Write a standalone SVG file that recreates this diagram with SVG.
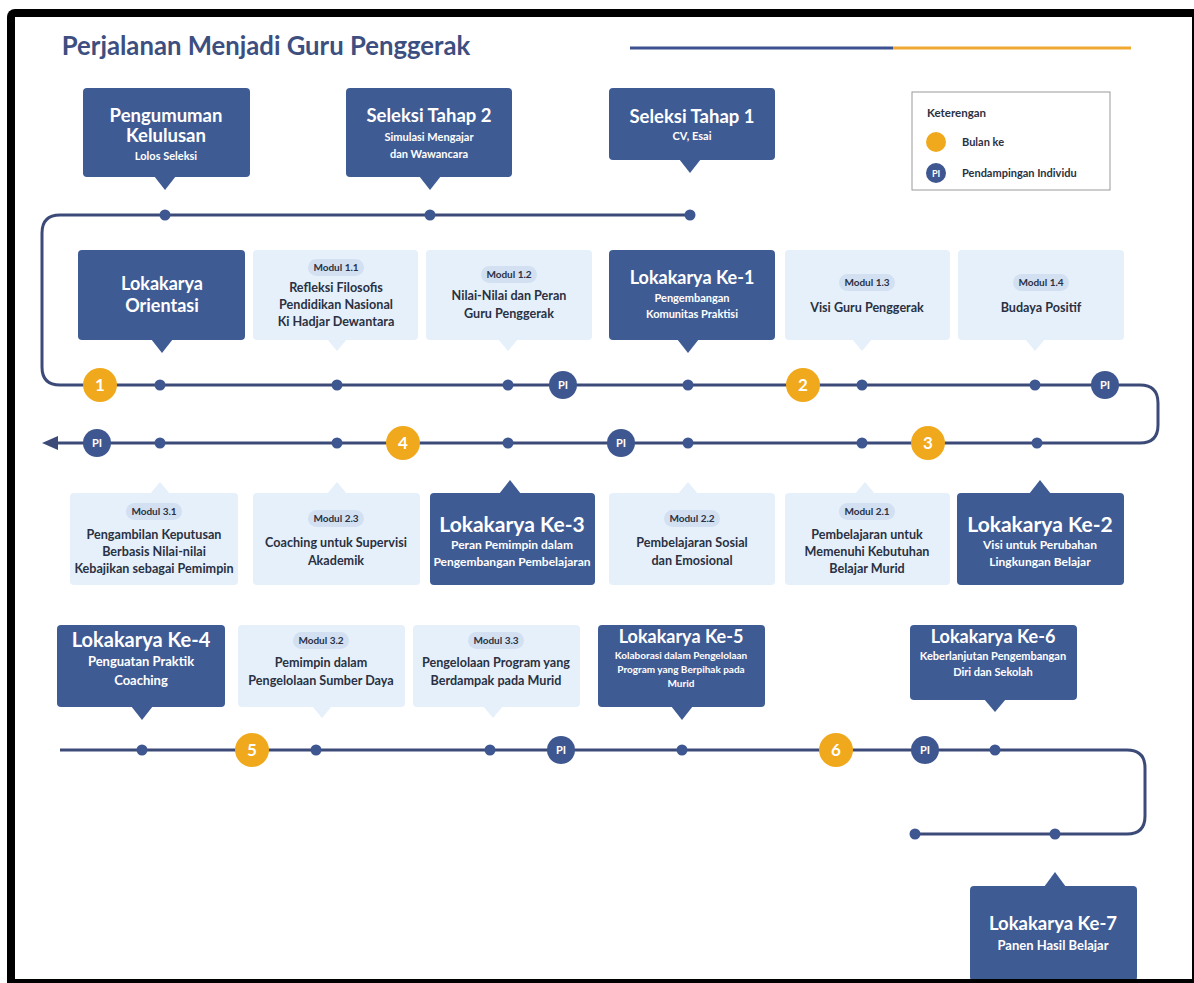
<svg xmlns="http://www.w3.org/2000/svg" width="1194" height="983" viewBox="0 0 1194 983">
<style>
text{font-family:Lato,"Open Sans","Liberation Sans",sans-serif;font-weight:bold;text-anchor:middle}
.dk{fill:#3f5b94}
.lt{fill:#e5f0fb}
.pill{fill:#d2e0f2}
.wt{fill:#fff;font-size:18px}
.wb{fill:#fff;font-size:21px}
.ws{fill:#fff;font-size:11px}
.wm{fill:#fff;font-size:13px}
.dt{fill:#2a3142;font-size:12.6px}
.pt{fill:#2a3142;font-size:10px}
.ln{fill:none;stroke:#3c4a78;stroke-width:3}
.dot{fill:#3f5790}
.or{fill:#f0a91d}
.on{fill:#fff;font-size:17px}
.pi{fill:#3f5790}
.pn{fill:#fff;font-size:11px}
</style>
<rect x="0" y="0" width="1194" height="983" fill="#fff"/>
<rect x="7" y="9" width="1195" height="985" rx="8" fill="#000"/>
<rect x="15" y="17" width="1177" height="962" fill="#fff"/>

<g id="title">
<text x="266" y="55" style="font-size:25.7px;fill:#3d4f80">Perjalanan Menjadi Guru Penggerak</text>
<line x1="630" y1="48" x2="893" y2="48" stroke="#3d5090" stroke-width="3"/>
<line x1="893" y1="48" x2="1131" y2="48" stroke="#f0a830" stroke-width="3"/>
</g>

<g id="legend">
<rect x="912" y="92" width="198" height="98" fill="#fff" stroke="#9a9a9a" stroke-width="1"/>
<text x="927" y="117" style="font-size:11.5px;fill:#2a3142;text-anchor:start">Keterengan</text>
<circle cx="936" cy="142" r="10" class="or"/>
<text x="962" y="146" style="font-size:11px;fill:#2a3142;text-anchor:start">Bulan ke</text>
<circle cx="936" cy="173" r="10" class="pi"/>
<text x="936" y="177" style="font-size:9px;fill:#fff">PI</text>
<text x="962" y="177" style="font-size:11px;fill:#2a3142;text-anchor:start">Pendampingan Individu</text>
</g>

<g id="connectors">
<path class="ln" d="M690 215 H60 Q42 215 42 233 V367 Q42 385 60 385 H1140 Q1158 385 1158 403 V425 Q1158 443 1140 443 H55"/>
<polygon points="42,443 58,436 58,450" fill="#3c4a78"/>
<path class="ln" d="M60 750 H1127 Q1145 750 1145 768 V816 Q1145 834 1127 834 H915"/>
</g>

<g id="markers">
<circle cx="165" cy="215" r="5.5" class="dot"/>
<circle cx="430" cy="215" r="5.5" class="dot"/>
<circle cx="690" cy="215" r="5.5" class="dot"/>

<circle cx="100" cy="385" r="17" class="or"/><text x="100" y="391" class="on">1</text>
<circle cx="160" cy="385" r="5.5" class="dot"/>
<circle cx="337" cy="385" r="5.5" class="dot"/>
<circle cx="508" cy="385" r="5.5" class="dot"/>
<circle cx="563" cy="385" r="14" class="pi"/><text x="563" y="389" class="pn">PI</text>
<circle cx="688" cy="385" r="5.5" class="dot"/>
<circle cx="803" cy="385" r="17" class="or"/><text x="803" y="391" class="on">2</text>
<circle cx="862" cy="385" r="5.5" class="dot"/>
<circle cx="1035" cy="385" r="5.5" class="dot"/>
<circle cx="1105" cy="385" r="14" class="pi"/><text x="1105" y="389" class="pn">PI</text>

<circle cx="928" cy="443" r="17" class="or"/><text x="928" y="449" class="on">3</text>
<circle cx="1037" cy="443" r="5.5" class="dot"/>
<circle cx="862" cy="443" r="5.5" class="dot"/>
<circle cx="688" cy="443" r="5.5" class="dot"/>
<circle cx="621" cy="443" r="14" class="pi"/><text x="621" y="447" class="pn">PI</text>
<circle cx="508" cy="443" r="5.5" class="dot"/>
<circle cx="403" cy="443" r="17" class="or"/><text x="403" y="449" class="on">4</text>
<circle cx="337" cy="443" r="5.5" class="dot"/>
<circle cx="160" cy="443" r="5.5" class="dot"/>
<circle cx="97" cy="443" r="14" class="pi"/><text x="97" y="447" class="pn">PI</text>

<circle cx="142" cy="750" r="5.5" class="dot"/>
<circle cx="252" cy="750" r="17" class="or"/><text x="252" y="756" class="on">5</text>
<circle cx="316" cy="750" r="5.5" class="dot"/>
<circle cx="490" cy="750" r="5.5" class="dot"/>
<circle cx="561" cy="750" r="14" class="pi"/><text x="561" y="754" class="pn">PI</text>
<circle cx="682" cy="750" r="5.5" class="dot"/>
<circle cx="836" cy="750" r="17" class="or"/><text x="836" y="756" class="on">6</text>
<circle cx="925" cy="750" r="14" class="pi"/><text x="925" y="754" class="pn">PI</text>
<circle cx="995" cy="750" r="5.5" class="dot"/>

<circle cx="915" cy="834" r="5.5" class="dot"/>
<circle cx="1055" cy="834" r="5.5" class="dot"/>
</g>

<g id="pengumuman">
<rect x="83" y="88" width="167" height="89" rx="4" class="dk"/>
<polygon points="154,176 176,176 165,190" class="dk"/>
<text x="166" y="122" class="wt" style="font-size:18.5px">Pengumuman</text>
<text x="166" y="142" class="wt" style="font-size:18.5px">Kelulusan</text>
<text x="166" y="160" class="ws">Lolos Seleksi</text>
</g>
<g id="seleksi2">
<rect x="346" y="88" width="166" height="89" rx="4" class="dk"/>
<polygon points="419,176 441,176 430,190" class="dk"/>
<text x="429" y="122" class="wt" style="font-size:18.5px">Seleksi Tahap 2</text>
<text x="429" y="141" class="ws">Simulasi Mengajar</text>
<text x="429" y="158" class="ws">dan Wawancara</text>
</g>
<g id="seleksi1">
<rect x="609" y="88" width="166" height="72" rx="4" class="dk"/>
<polygon points="679,159 701,159 690,173" class="dk"/>
<text x="692" y="123" class="wt" style="font-size:18.5px">Seleksi Tahap 1</text>
<text x="692" y="140" class="ws">CV, Esai</text>
</g>

<g id="orientasi">
<rect x="78" y="250" width="167" height="90" rx="4" class="dk"/>
<polygon points="151,339 173,339 162,353" class="dk"/>
<text x="162" y="290" class="wt">Lokakarya</text>
<text x="162" y="312" class="wt">Orientasi</text>
</g>
<g id="modul11">
<rect x="253" y="250" width="165" height="90" rx="4" class="lt"/>
<polygon points="327,339 347,339 337,351" class="lt"/>
<rect x="308" y="259" width="56" height="17" rx="8.5" class="pill"/>
<text x="336" y="271" class="pt">Modul 1.1</text>
<text x="336" y="292" class="dt">Refleksi Filosofis</text>
<text x="336" y="309" class="dt">Pendidikan Nasional</text>
<text x="336" y="326" class="dt">Ki Hadjar Dewantara</text>
</g>
<g id="modul12">
<rect x="426" y="250" width="166" height="90" rx="4" class="lt"/>
<polygon points="498,339 518,339 508,351" class="lt"/>
<rect x="481" y="266" width="56" height="17" rx="8.5" class="pill"/>
<text x="509" y="278" class="pt">Modul 1.2</text>
<text x="509" y="300" class="dt">Nilai-Nilai dan Peran</text>
<text x="509" y="318" class="dt">Guru Penggerak</text>
</g>
<g id="lk1">
<rect x="609" y="250" width="166" height="90" rx="4" class="dk"/>
<polygon points="677,339 699,339 688,353" class="dk"/>
<text x="692" y="284" class="wt">Lokakarya Ke-1</text>
<text x="692" y="302" class="ws">Pengembangan</text>
<text x="692" y="318" class="ws">Komunitas Praktisi</text>
</g>
<g id="modul13">
<rect x="785" y="250" width="165" height="90" rx="4" class="lt"/>
<polygon points="852,339 872,339 862,351" class="lt"/>
<rect x="839" y="274" width="56" height="17" rx="8.5" class="pill"/>
<text x="867" y="286" class="pt">Modul 1.3</text>
<text x="867" y="312" class="dt">Visi Guru Penggerak</text>
</g>
<g id="modul14">
<rect x="958" y="250" width="166" height="90" rx="4" class="lt"/>
<polygon points="1025,339 1045,339 1035,351" class="lt"/>
<rect x="1013" y="274" width="56" height="17" rx="8.5" class="pill"/>
<text x="1041" y="286" class="pt">Modul 1.4</text>
<text x="1041" y="312" class="dt">Budaya Positif</text>
</g>

<g id="modul31">
<rect x="70" y="493" width="168" height="92" rx="4" class="lt"/>
<polygon points="150,494 170,494 160,482" class="lt"/>
<rect x="126" y="503" width="56" height="17" rx="8.5" class="pill"/>
<text x="154" y="515" class="pt">Modul 3.1</text>
<text x="154" y="539" class="dt">Pengambilan Keputusan</text>
<text x="154" y="556" class="dt">Berbasis Nilai-nilai</text>
<text x="154" y="573" class="dt">Kebajikan sebagai Pemimpin</text>
</g>
<g id="modul23">
<rect x="253" y="493" width="167" height="92" rx="4" class="lt"/>
<polygon points="327,494 347,494 337,482" class="lt"/>
<rect x="308" y="510" width="56" height="17" rx="8.5" class="pill"/>
<text x="336" y="522" class="pt">Modul 2.3</text>
<text x="336" y="547" class="dt">Coaching untuk Supervisi</text>
<text x="336" y="565" class="dt">Akademik</text>
</g>
<g id="lk3">
<rect x="430" y="493" width="165" height="92" rx="4" class="dk"/>
<polygon points="499,494 521,494 510,480" class="dk"/>
<text x="512" y="532" class="wb">Lokakarya Ke-3</text>
<text x="512" y="549" class="ws" style="font-size:12px">Peran Pemimpin dalam</text>
<text x="512" y="566" class="ws" style="font-size:12px">Pengembangan Pembelajaran</text>
</g>
<g id="modul22">
<rect x="609" y="493" width="166" height="92" rx="4" class="lt"/>
<polygon points="678,494 698,494 688,482" class="lt"/>
<rect x="664" y="510" width="56" height="17" rx="8.5" class="pill"/>
<text x="692" y="522" class="pt">Modul 2.2</text>
<text x="692" y="547" class="dt">Pembelajaran Sosial</text>
<text x="692" y="565" class="dt">dan Emosional</text>
</g>
<g id="modul21">
<rect x="785" y="493" width="165" height="92" rx="4" class="lt"/>
<polygon points="855,494 875,494 865,482" class="lt"/>
<rect x="839" y="503" width="56" height="17" rx="8.5" class="pill"/>
<text x="867" y="515" class="pt">Modul 2.1</text>
<text x="867" y="539" class="dt">Pembelajaran untuk</text>
<text x="867" y="556" class="dt">Memenuhi Kebutuhan</text>
<text x="867" y="573" class="dt">Belajar Murid</text>
</g>
<g id="lk2">
<rect x="957" y="493" width="167" height="92" rx="4" class="dk"/>
<polygon points="1029,494 1051,494 1040,480" class="dk"/>
<text x="1040" y="532" class="wb">Lokakarya Ke-2</text>
<text x="1040" y="549" class="ws" style="font-size:12px">Visi untuk Perubahan</text>
<text x="1040" y="566" class="ws" style="font-size:12px">Lingkungan Belajar</text>
</g>

<g id="lk4">
<rect x="57" y="625" width="168" height="82" rx="4" class="dk"/>
<polygon points="131,706 153,706 142,720" class="dk"/>
<text x="141" y="647" class="wt" style="font-size:20px">Lokakarya Ke-4</text>
<text x="141" y="666" class="wm">Penguatan Praktik</text>
<text x="141" y="685" class="wm">Coaching</text>
</g>
<g id="modul32">
<rect x="238" y="625" width="167" height="82" rx="4" class="lt"/>
<polygon points="312,706 332,706 322,718" class="lt"/>
<rect x="293" y="632" width="56" height="17" rx="8.5" class="pill"/>
<text x="321" y="644" class="pt">Modul 3.2</text>
<text x="321" y="667" class="dt">Pemimpin dalam</text>
<text x="321" y="685" class="dt">Pengelolaan Sumber Daya</text>
</g>
<g id="modul33">
<rect x="413" y="625" width="167" height="82" rx="4" class="lt"/>
<polygon points="483,706 503,706 493,718" class="lt"/>
<rect x="468" y="632" width="56" height="17" rx="8.5" class="pill"/>
<text x="496" y="644" class="pt">Modul 3.3</text>
<text x="496" y="667" class="dt">Pengelolaan Program yang</text>
<text x="496" y="685" class="dt">Berdampak pada Murid</text>
</g>
<g id="lk5">
<rect x="598" y="625" width="167" height="82" rx="4" class="dk"/>
<polygon points="671,706 693,706 682,720" class="dk"/>
<text x="681" y="643" class="wt">Lokakarya Ke-5</text>
<text x="681" y="659" class="ws" style="font-size:10px">Kolaborasi dalam Pengelolaan</text>
<text x="681" y="673" class="ws" style="font-size:10px">Program yang Berpihak pada</text>
<text x="681" y="687" class="ws" style="font-size:10px">Murid</text>
</g>
<g id="lk6">
<rect x="910" y="625" width="167" height="75" rx="4" class="dk"/>
<polygon points="984,699 1006,699 995,712" class="dk"/>
<text x="993" y="643" class="wt">Lokakarya Ke-6</text>
<text x="993" y="660" class="ws">Keberlanjutan Pengembangan</text>
<text x="993" y="676" class="ws">Diri dan Sekolah</text>
</g>
<g id="lk7">
<rect x="970" y="886" width="167" height="95" rx="4" class="dk"/>
<polygon points="1044,887 1066,887 1055,872" class="dk"/>
<text x="1053" y="930" class="wt" style="font-size:18.5px">Lokakarya Ke-7</text>
<text x="1053" y="950" class="wm">Panen Hasil Belajar</text>
</g>
<rect x="7" y="979" width="1187" height="4" fill="#000"/>
</svg>
